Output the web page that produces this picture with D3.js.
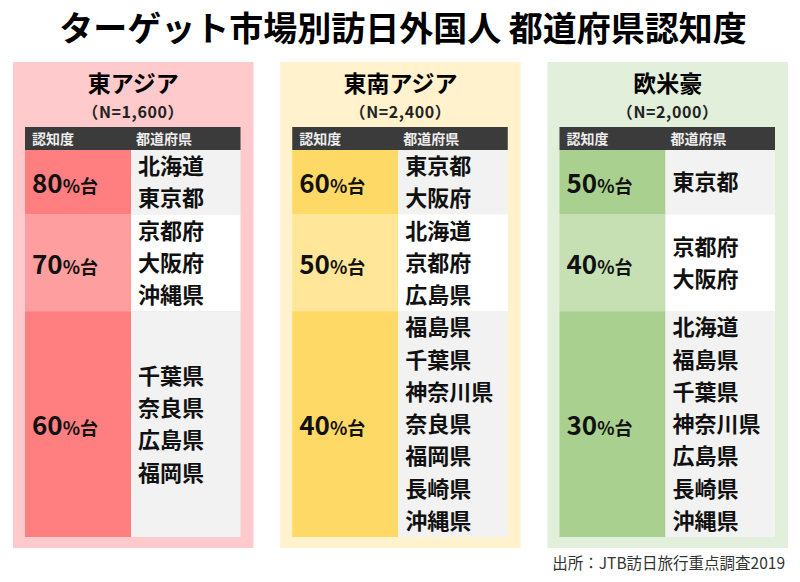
<!DOCTYPE html>
<html>
<head>
<meta charset="utf-8">
<script src="https://cdn.jsdelivr.net/npm/d3@7"></script>
<style>
  body { margin: 0; background: #ffffff; }
  text { font-family: "Noto Sans CJK JP", "Noto Sans", sans-serif; }
</style>
</head>
<body>
<svg id="chart" width="800" height="582"></svg>
<script>
const title = "ターゲット市場別訪日外国人 都道府県認知度";
const regions = ["東アジア", "東南アジア", "欧米豪"];
const sampleSizes = ["1,600", "2,400", "2,000"];
const levels = [
  ["80", "70", "60"],
  ["60", "50", "40"],
  ["50", "40", "30"]
];
const prefectures = [
  [["北海道", "東京都"], ["京都府", "大阪府", "沖縄県"], ["千葉県", "奈良県", "広島県", "福岡県"]],
  [["東京都", "大阪府"], ["北海道", "京都府", "広島県"], ["福島県", "千葉県", "神奈川県", "奈良県", "福岡県", "長崎県", "沖縄県"]],
  [["東京都"], ["京都府", "大阪府"], ["北海道", "福島県", "千葉県", "神奈川県", "広島県", "長崎県", "沖縄県"]]
];
const rowUnits = [2, 3, 7];
const source = "出所：JTB訪日旅行重点調査2019";

const panelBg = ["#FFCACC", "#FFF2CC", "#E2EFDA"];
const darkCell = ["#FF7F81", "#FFD966", "#A9D08E"];
const lightCell = ["#FF9E9F", "#FFE699", "#C6E0B4"];
const listFill = ["#F2F2F2", "#FFFFFF", "#F2F2F2"];

const svg = d3.select("#chart");

svg.append("text")
  .attr("x", 403)
  .attr("y", 41)
  .attr("text-anchor", "middle")
  .attr("font-size", 34)
  .attr("font-weight", 700)
  .attr("fill", "#000")
  .text(title);

const px = d3.scaleBand().domain(d3.range(regions.length)).range([13, 788]).paddingInner(0.1);

// cumulative line units -> y position inside table body
const starts = rowUnits.map((d, i) => d3.sum(rowUnits.slice(0, i)));
const y = d3.scaleLinear().domain([0, d3.sum(rowUnits)]).range([150, 537]);
const lineH = y(1) - y(0);

regions.forEach((region, p) => {
  const x0 = px(p);
  const w = px.bandwidth();
  const g = svg.append("g");

  g.append("rect")
    .attr("x", x0).attr("y", 62)
    .attr("width", w).attr("height", 486)
    .attr("fill", panelBg[p]);

  g.append("text")
    .attr("x", x0 + w / 2).attr("y", 92)
    .attr("text-anchor", "middle")
    .attr("font-size", 23).attr("font-weight", 700)
    .text(region);

  g.append("text")
    .attr("x", x0 + w / 2).attr("y", 118)
    .attr("text-anchor", "middle")
    .attr("font-size", 16).attr("font-weight", 700)
    .attr("letter-spacing", 0.6)
    .attr("fill", "#222")
    .text("（N=" + sampleSizes[p] + "）");

  const tx = x0 + 12;
  const tw = w - 25;
  const split = tx + 106;

  g.append("rect")
    .attr("x", tx).attr("y", 127)
    .attr("width", tw).attr("height", 23)
    .attr("fill", "#3B3B3B");

  g.append("text")
    .attr("x", tx + 7).attr("y", 144)
    .attr("font-size", 14).attr("font-weight", 700)
    .attr("fill", "#EDEDED")
    .text("認知度");

  g.append("text")
    .attr("x", split + 5).attr("y", 144)
    .attr("font-size", 14).attr("font-weight", 700)
    .attr("fill", "#EDEDED")
    .text("都道府県");

  levels[p].forEach((lv, r) => {
    const top = y(starts[r]);
    const h = y(starts[r] + rowUnits[r]) - top;
    const mid = top + h / 2;

    g.append("rect")
      .attr("x", tx).attr("y", top)
      .attr("width", split - tx).attr("height", h)
      .attr("fill", r === 1 ? lightCell[p] : darkCell[p]);

    g.append("rect")
      .attr("x", split).attr("y", top)
      .attr("width", tx + tw - split).attr("height", h)
      .attr("fill", listFill[r]);

    const label = g.append("text")
      .attr("x", tx + 7).attr("y", mid + 11)
      .attr("font-weight", 700)
      .attr("fill", "#111");
    label.append("tspan").attr("font-size", 26).text(lv);
    label.append("tspan").attr("font-size", 18).text("%台");

    const names = prefectures[p][r];
    const firstY = mid - (names.length - 1) * lineH / 2;
    g.selectAll(null)
      .data(names)
      .join("text")
      .attr("x", split + 7)
      .attr("y", (d, i) => firstY + i * lineH + 8)
      .attr("font-size", 22).attr("font-weight", 700)
      .attr("fill", "#111")
      .text(d => d);
  });
});

svg.append("text")
  .attr("x", 785).attr("y", 569)
  .attr("text-anchor", "end")
  .attr("font-size", 15.5)
  .attr("fill", "#333")
  .text(source);
</script>
</body>
</html>
